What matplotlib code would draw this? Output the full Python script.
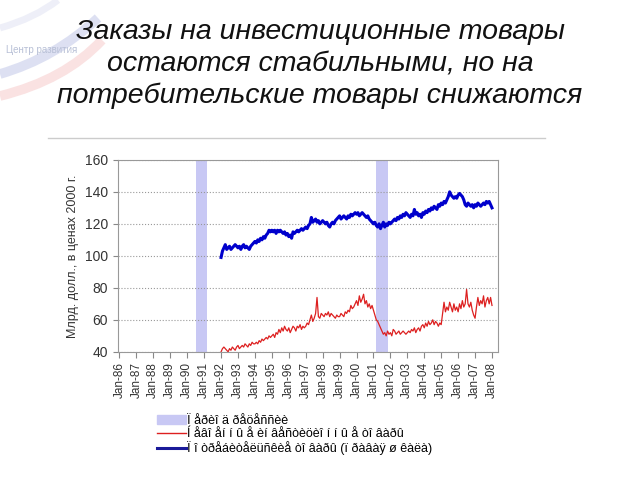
import numpy as np
import matplotlib
matplotlib.use("Agg")
import matplotlib.pyplot as plt
from matplotlib.patches import Patch, PathPatch
from matplotlib.path import Path
from matplotlib.lines import Line2D

plt.rcParams['font.family'] = ['Liberation Sans', 'DejaVu Sans']

title_lines = ["Заказы на инвестиционные товары",
               "остаются стабильными, но на",
               "потребительские товары снижаются"]
ylabel = "Млрд. долл., в ценах 2000 г."
legend_labels = ["Ï åðèî ä ðåöåññèè",
                 "Í åâî åí í û å èí âåñòèöèî í í û å òî âàðû",
                 "Ï î òðåáèòåëüñêèå òî âàðû (ï ðàâàÿ ø êàëà)"]

start_year = 1992  # monthly data from Jan-92 to Jan-08
years = list(range(1986, 2009))
tick_labels = ["Jan-%02d" % (y % 100) for y in years]

# recessions (start, end) in fractional years
recessions = [(1990.5, 1991.17), (2001.17, 2001.83)]

# blue line, monthly
blue = [
    99, 103, 105, 107, 104, 105, 106, 104, 105, 106, 107, 106,
    105, 106, 104, 106, 107, 105, 106, 105, 104, 106, 107, 108,
    109, 108, 110, 109, 111, 110, 112, 111, 113, 114, 116, 115,
    116, 115, 116, 114, 116, 115, 116, 115, 114, 115, 113, 114,
    112, 113, 111, 115, 114, 115, 116, 115, 116, 117, 116, 117,
    118, 117, 119, 120, 124, 121, 122, 123, 121, 122, 120, 121,
    122, 121, 120, 121, 119, 118, 120, 121, 120, 122, 123, 124,
    125, 123, 124, 125, 124, 123, 125, 124, 126, 125, 126, 127,
    126, 127, 125, 126, 127, 126, 125, 124, 125, 123, 122, 121,
    120, 121, 119, 118, 120, 117, 119, 121, 118, 120, 119, 121,
    120, 121, 122, 123, 122, 124, 123, 125, 124, 126, 125, 127,
    126, 125, 124, 126, 125, 129, 126, 127, 125, 126, 124, 127,
    126, 128, 127, 129, 128, 130, 129, 131, 130, 129, 132, 131,
    133, 132, 134, 133, 135, 137, 140, 138, 137, 136, 137, 136,
    138, 139, 138, 137, 135, 132, 131, 133, 132, 131, 132, 130,
    132, 131, 133, 132, 131, 132, 133, 132, 134, 133, 134, 132,
    130,
]

# red line, monthly
red = [
    40, 42, 43, 42, 41, 40, 42, 41, 43, 42, 41, 43,
    44, 42, 43, 44, 43, 45, 44, 43, 45, 44, 46, 45,
    45, 46, 45, 47, 46, 48, 47, 48, 49, 48, 50, 49,
    50, 51, 49, 52, 51, 54, 52, 55, 53, 56, 54, 53,
    55, 52, 54, 56, 55, 53, 56, 55, 57, 54, 56, 55,
    56, 58, 57, 60, 63, 59, 61, 64, 74, 62, 61, 64,
    63, 62, 64, 63, 65, 62, 64, 63, 62, 61, 63, 62,
    62, 64, 63, 62, 65, 64, 66, 65, 69, 67, 68, 70,
    72, 69, 75, 71, 73, 76, 70, 72, 68, 70, 67, 69,
    66, 63, 60, 59, 57, 55, 53, 51, 52, 50, 53, 51,
    52, 50, 54, 53, 51, 52, 53, 51, 52, 53, 52, 51,
    52, 53, 52, 54, 53, 55, 52, 54, 55, 53, 56, 57,
    55, 58, 56, 59, 57, 58, 60, 57, 59, 58, 56, 58,
    57, 64, 71, 65, 68, 66, 71, 68, 65, 70, 66, 68,
    65, 70, 67, 72, 68, 70, 79, 70, 68, 71, 66, 63,
    61, 68, 74, 69, 72, 70, 75, 68, 72, 74, 70, 74,
    69,
]

x = start_year + np.arange(len(blue)) / 12.0

fig = plt.figure(figsize=(6.4, 4.8), dpi=100)
fig.patch.set_facecolor('white')


def swoosh(p0, p1, p2, color, lw):
    # faint logo curve, given in pixels from the top-left corner
    pts = [(px / 640.0, 1 - py / 480.0) for px, py in (p0, p1, p2)]
    path = Path(pts, [Path.MOVETO, Path.CURVE3, Path.CURVE3])
    fig.patches.append(PathPatch(path, transform=fig.transFigure, fill=False,
                                 edgecolor=color, lw=lw, alpha=0.3,
                                 capstyle='butt'))


# faint logo in top-left corner
swoosh((0, 28), (35, 18), (58, 0), '#c8cce8', 5)
swoosh((0, 74), (55, 58), (98, 18), '#8f9bd6', 7)
swoosh((0, 96), (65, 80), (102, 40), '#f0a0a0', 7)
fig.text(6 / 640, 1 - 53 / 480, "Центр развития", fontsize=7,
         color='#b8c0d6')

for i, line in enumerate(title_lines):
    fig.text(0.5, 1 - (32 + 32 * i) / 480, line, ha='center', va='center',
             fontsize=20.5, style='italic', color='#111111')
fig.add_artist(Line2D([0.075, 0.852], [0.712, 0.712], color='#cccccc', lw=1))

ax = fig.add_axes([0.184, 0.267, 0.594, 0.4])
for a, b in recessions:
    ax.axvspan(a, b, color='#c8c8f4', lw=0)
ax.plot(x, red, color='#dd2020', lw=0.9)
ax.plot(x, blue, color='#0000cc', lw=2.2)

ax.set_xlim(1985.9, 2008.35)
ax.set_ylim(40, 160)
ax.set_yticks(range(40, 161, 20))
ax.set_xticks(years)
ax.set_xticklabels(tick_labels, rotation=90, fontsize=8.5, color='#333333')
ax.tick_params(axis='y', labelsize=10, labelcolor='#333333', color='#888888')
ax.tick_params(axis='x', color='#888888', length=4)
ax.grid(axis='y', linestyle=':', color='#999999', lw=0.8)
for s in ax.spines.values():
    s.set_color('#999999')
ax.set_ylabel(ylabel, fontsize=9, color='#333333', labelpad=4)

handles = [Patch(color='#c8c8f4'),
           Line2D([], [], color='#dd2020', lw=1),
           Line2D([], [], color='#1a1a99', lw=2.2)]
fig.legend(handles, legend_labels, loc='upper left',
           bbox_to_anchor=(0.246, 0.136), frameon=False, fontsize=9,
           labelspacing=0.1, handlelength=2.3, handletextpad=0.05,
           borderaxespad=0, borderpad=0)

fig.savefig("out.png", dpi=100)
